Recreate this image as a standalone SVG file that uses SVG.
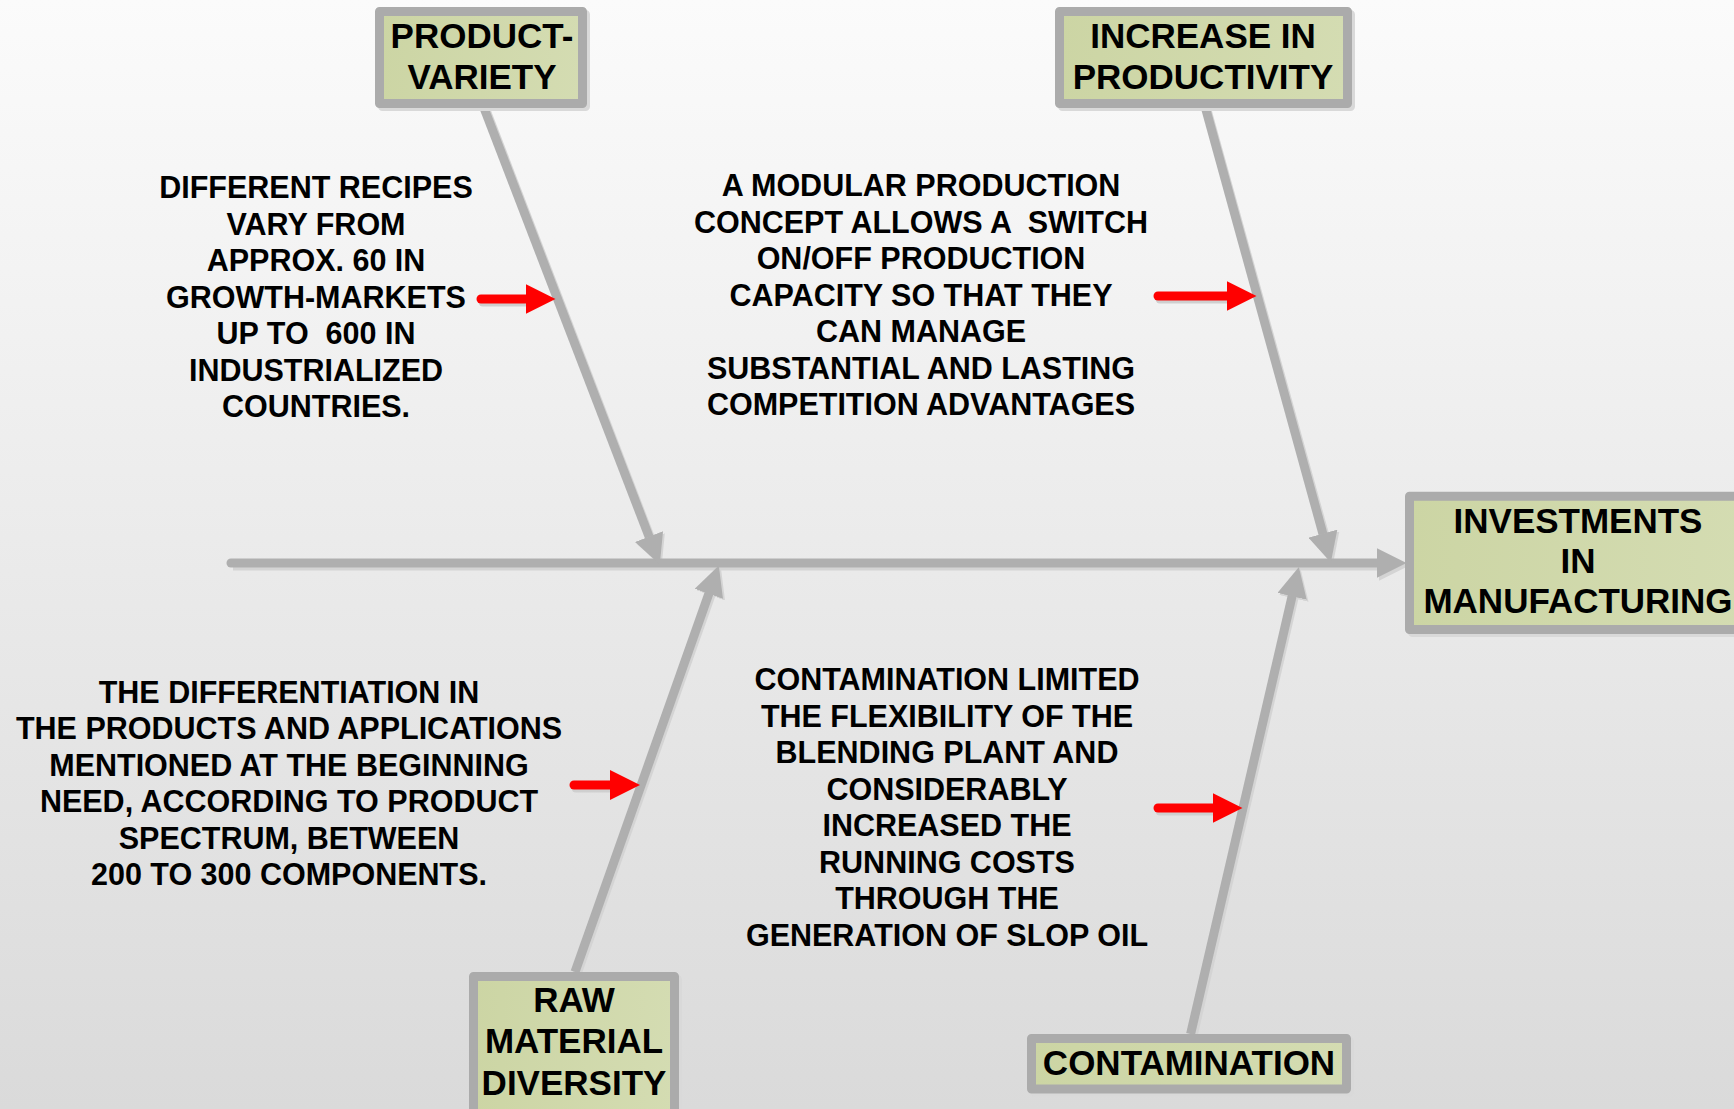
<svg xmlns="http://www.w3.org/2000/svg" width="1734" height="1109" viewBox="0 0 1734 1109">
<defs>
<linearGradient id="bg" x1="0" y1="0" x2="0" y2="1">
<stop offset="0" stop-color="#fbfbfb"/>
<stop offset="1" stop-color="#dadada"/>
</linearGradient>
<linearGradient id="boxfill" x1="0" y1="0" x2="1" y2="0">
<stop offset="0" stop-color="#ccd5a4"/>
<stop offset="1" stop-color="#d4dcb2"/>
</linearGradient>
<marker id="head" viewBox="0 0 30 30" refX="0.5" refY="15" markerWidth="30" markerHeight="30" markerUnits="userSpaceOnUse" orient="auto">
<path d="M0,0 L30,15 L0,30 z" fill="#afafaf"/>
</marker>
<marker id="headsh" viewBox="0 0 30 30" refX="0.5" refY="15" markerWidth="30" markerHeight="30" markerUnits="userSpaceOnUse" orient="auto">
<path d="M0,0 L30,15 L0,30 z" fill="#d4d4d4"/>
</marker>
<marker id="redhead" viewBox="0 0 30 30" refX="0.5" refY="15" markerWidth="30" markerHeight="30" markerUnits="userSpaceOnUse" orient="auto">
<path d="M0,0 L30,15 L0,30 z" fill="#ff0000"/>
</marker>
</defs>
<style>
.bone{stroke:#afafaf;stroke-width:9;fill:none;marker-end:url(#head)}
.bonesh{stroke:#d4d4d4;stroke-width:9;fill:none;marker-end:url(#headsh)}
.red{stroke:#ff0000;stroke-width:9;fill:none;stroke-linecap:round;marker-end:url(#redhead)}
.redsh{stroke:#cfcfcf;stroke-width:9;fill:none;stroke-linecap:round}
.box{fill:url(#boxfill);stroke:#ababab;stroke-width:9;stroke-linejoin:round}
.boxsh{fill:none;stroke:#d9d9d9;stroke-width:9;stroke-linejoin:round}
.lbl{font-family:"Liberation Sans",Arial,sans-serif;font-weight:bold;font-size:35px;fill:#000;text-anchor:middle}
.txt{font-family:"Liberation Sans",Arial,sans-serif;font-weight:bold;font-size:30.5px;fill:#000;text-anchor:middle;white-space:pre}
</style>
<rect x="0" y="0" width="1734" height="1109" fill="url(#bg)"/>

<g id="connectors">
<g id="shadows">
<line class="bonesh" x1="233" y1="566" x2="1379" y2="566"/>
<line class="bonesh" x1="486" y1="110" x2="651" y2="539"/>
<line class="bonesh" x1="1207" y1="110" x2="1325" y2="536"/>
<line class="bonesh" x1="577" y1="974" x2="711" y2="595"/>
<line class="bonesh" x1="1193" y1="1036" x2="1294" y2="598"/>
</g>
<line id="spine" class="bone" x1="231" y1="563" x2="1377" y2="563" style="stroke-linecap:round"/>
<line id="bone-product" class="bone" x1="484" y1="108" x2="649.2" y2="537"/>
<line id="bone-productivity" class="bone" x1="1205.5" y1="108" x2="1323" y2="534.1"/>
<line id="bone-raw" class="bone" x1="575" y1="972" x2="709" y2="593.3"/>
<line id="bone-contamination" class="bone" x1="1190.6" y1="1034" x2="1292.2" y2="595.8"/>
<g id="red-arrows">
<line class="redsh" x1="483" y1="302" x2="527" y2="302"/>
<line class="red" x1="481" y1="299" x2="526" y2="299"/>
<line class="redsh" x1="1160" y1="299" x2="1227" y2="299"/>
<line class="red" x1="1158" y1="296" x2="1227" y2="296"/>
<line class="redsh" x1="576" y1="788" x2="611" y2="788"/>
<line class="red" x1="574" y1="785" x2="610.5" y2="785"/>
<line class="redsh" x1="1160" y1="811" x2="1213" y2="811"/>
<line class="red" x1="1158" y1="808" x2="1213" y2="808"/>
</g>
</g>

<g id="node-product-variety">
<rect class="boxsh" x="382.5" y="14.5" width="203" height="92"/>
<rect class="box" x="379.5" y="11.5" width="203" height="92"/>
<text class="lbl" x="482" y="48">PRODUCT-</text>
<text class="lbl" x="482" y="88.5">VARIETY</text>
</g>

<g id="node-productivity">
<rect class="boxsh" x="1062.5" y="14.5" width="288" height="92"/>
<rect class="box" x="1059.5" y="11.5" width="288" height="92"/>
<text class="lbl" x="1203" y="48">INCREASE IN</text>
<text class="lbl" x="1203" y="88.5">PRODUCTIVITY</text>
</g>

<g id="node-investments">
<rect class="boxsh" x="1412.5" y="499.2" width="337" height="133.3"/>
<rect class="box" x="1409.5" y="496.2" width="337" height="133.3"/>
<text class="lbl" x="1578" y="532.5">INVESTMENTS</text>
<text class="lbl" x="1578" y="572.5">IN</text>
<text class="lbl" x="1578" y="612.5">MANUFACTURING</text>
</g>

<g id="node-raw-material">
<rect class="boxsh" x="476.5" y="979.5" width="201" height="160"/>
<rect class="box" x="473.5" y="976.5" width="201" height="160"/>
<text class="lbl" x="574" y="1012">RAW</text>
<text class="lbl" x="574" y="1053">MATERIAL</text>
<text class="lbl" x="574" y="1094.5">DIVERSITY</text>
</g>

<g id="node-contamination">
<rect class="boxsh" x="1034.5" y="1041.5" width="315" height="50.6"/>
<rect class="box" x="1031.5" y="1038.5" width="315" height="50.6"/>
<text class="lbl" x="1189" y="1075">CONTAMINATION</text>
</g>

<g id="note-product-variety">
<text class="txt" x="316" y="198">DIFFERENT RECIPES</text>
<text class="txt" x="316" y="234.5">VARY FROM</text>
<text class="txt" x="316" y="271">APPROX. 60 IN</text>
<text class="txt" x="316" y="307.5">GROWTH-MARKETS</text>
<text class="txt" x="316" y="344" xml:space="preserve">UP TO  600 IN</text>
<text class="txt" x="316" y="380.5">INDUSTRIALIZED</text>
<text class="txt" x="316" y="417">COUNTRIES.</text>
</g>

<g id="note-productivity">
<text class="txt" x="921" y="196">A MODULAR PRODUCTION</text>
<text class="txt" x="921" y="232.5" xml:space="preserve">CONCEPT ALLOWS A  SWITCH</text>
<text class="txt" x="921" y="269">ON/OFF PRODUCTION</text>
<text class="txt" x="921" y="305.5">CAPACITY SO THAT THEY</text>
<text class="txt" x="921" y="342">CAN MANAGE</text>
<text class="txt" x="921" y="378.5">SUBSTANTIAL AND LASTING</text>
<text class="txt" x="921" y="415">COMPETITION ADVANTAGES</text>
</g>

<g id="note-raw-material">
<text class="txt" x="289" y="702.6">THE DIFFERENTIATION IN</text>
<text class="txt" x="289" y="739.2">THE PRODUCTS AND APPLICATIONS</text>
<text class="txt" x="289" y="775.8">MENTIONED AT THE BEGINNING</text>
<text class="txt" x="289" y="812.2">NEED, ACCORDING TO PRODUCT</text>
<text class="txt" x="289" y="848.5">SPECTRUM, BETWEEN</text>
<text class="txt" x="289" y="885">200 TO 300 COMPONENTS.</text>
</g>

<g id="note-contamination">
<text class="txt" x="947" y="690">CONTAMINATION LIMITED</text>
<text class="txt" x="947" y="726.5">THE FLEXIBILITY OF THE</text>
<text class="txt" x="947" y="763">BLENDING PLANT AND</text>
<text class="txt" x="947" y="799.5">CONSIDERABLY</text>
<text class="txt" x="947" y="836">INCREASED THE</text>
<text class="txt" x="947" y="872.5">RUNNING COSTS</text>
<text class="txt" x="947" y="909">THROUGH THE</text>
<text class="txt" x="947" y="945.5">GENERATION OF SLOP OIL</text>
</g>
</svg>
